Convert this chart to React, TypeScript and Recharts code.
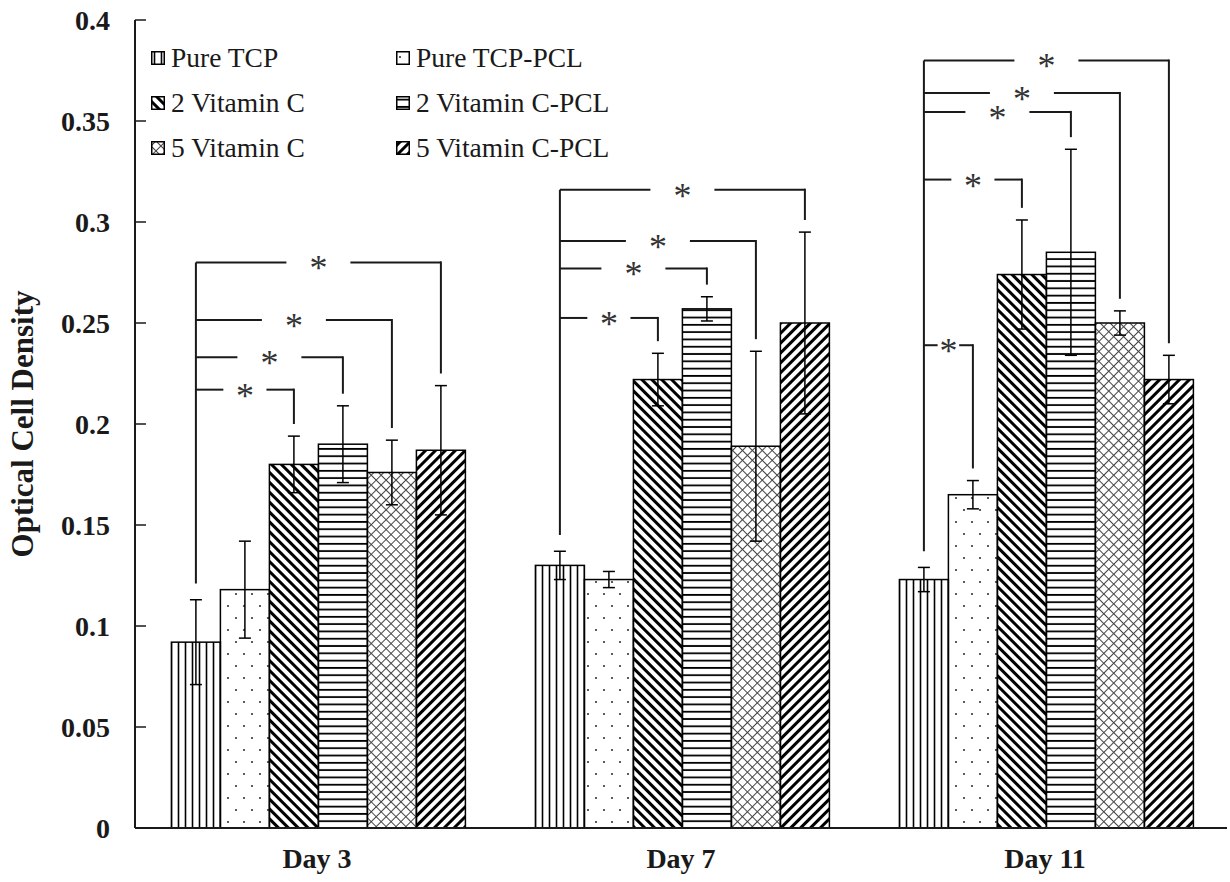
import React from 'react';
import { BarChart, Bar, XAxis, YAxis, ErrorBar, Legend, Label } from 'recharts';

const days = ['Day 3', 'Day 7', 'Day 11'];

const pureTcp = [0.092, 0.13, 0.123];
const pureTcpErr = [0.021, 0.007, 0.006];
const pureTcpPcl = [0.118, 0.123, 0.165];
const pureTcpPclErr = [0.024, 0.004, 0.007];
const vitC2 = [0.18, 0.222, 0.274];
const vitC2Err = [0.014, 0.013, 0.027];
const vitC2Pcl = [0.19, 0.257, 0.285];
const vitC2PclErr = [0.019, 0.006, 0.051];
const vitC5 = [0.176, 0.189, 0.25];
const vitC5Err = [0.016, 0.047, 0.006];
const vitC5Pcl = [0.187, 0.25, 0.222];
const vitC5PclErr = [0.032, 0.045, 0.012];

// height of the "*" bracket joining Pure TCP to each group (null = no bracket)
const sigPureTcpPcl = [null, null, 0.239];
const sigVitC2 = [0.217, 0.2525, 0.321];
const sigVitC2Pcl = [0.233, 0.277, 0.3545];
const sigVitC5 = [0.2515, 0.2906, 0.3639];
const sigVitC5Pcl = [0.28, 0.316, 0.38];

const yTicks = [0, 0.05, 0.1, 0.15, 0.2, 0.25, 0.3, 0.35, 0.4];

const rows = days.map((day, i) => ({
  day,
  pureTcp: pureTcp[i],
  pureTcpErr: pureTcpErr[i],
  pureTcpPcl: pureTcpPcl[i],
  pureTcpPclErr: pureTcpPclErr[i],
  pureTcpPclSig: sigPureTcpPcl[i],
  vitC2: vitC2[i],
  vitC2Err: vitC2Err[i],
  vitC2Sig: sigVitC2[i],
  vitC2Pcl: vitC2Pcl[i],
  vitC2PclErr: vitC2PclErr[i],
  vitC2PclSig: sigVitC2Pcl[i],
  vitC5: vitC5[i],
  vitC5Err: vitC5Err[i],
  vitC5Sig: sigVitC5[i],
  vitC5Pcl: vitC5Pcl[i],
  vitC5PclErr: vitC5PclErr[i],
  vitC5PclSig: sigVitC5Pcl[i],
}));

const series = [
  { key: 'pureTcp', name: 'Pure TCP', fill: 'url(#pVert)' },
  { key: 'pureTcpPcl', name: 'Pure TCP-PCL', fill: 'url(#pDots)' },
  { key: 'vitC2', name: '2 Vitamin C', fill: 'url(#pBack)' },
  { key: 'vitC2Pcl', name: '2 Vitamin C-PCL', fill: 'url(#pHoriz)' },
  { key: 'vitC5', name: '5 Vitamin C', fill: 'url(#pCross)' },
  { key: 'vitC5Pcl', name: '5 Vitamin C-PCL', fill: 'url(#pFwd)' },
];

const serif = "'Times New Roman', 'Liberation Serif', serif";
const ink = '#1a1a1a';

const makeShape = (k: number, key: string) => (props: any) => {
  const { x, y, width, height, payload, fill } = props;
  const v = payload[key];
  const base = y + height;
  const py = (val: number) => base - (val * height) / v;
  const cx = x + width / 2;
  const top = v + payload[key + 'Err'];
  const parts: any[] = [
    <rect key="r" x={x} y={y} width={width} height={height} fill={fill} stroke="#000" strokeWidth={1.5} />,
  ];
  if (k === 0) {
    const maxSig = Math.max(...series.slice(1).map((s) => payload[s.key + 'Sig'] ?? 0));
    parts.push(
      <line key="v" x1={cx} x2={cx} y1={py(maxSig)} y2={py(top + 0.008)} stroke={ink} strokeWidth={2} />
    );
  } else if (payload[key + 'Sig'] != null) {
    const by = py(payload[key + 'Sig']);
    const x0 = cx - k * width;
    const mid = (x0 + cx) / 2;
    const g = Math.min(32, (cx - x0) * 0.22);
    parts.push(
      <line key="h1" x1={x0} x2={mid - g} y1={by} y2={by} stroke={ink} strokeWidth={2} />,
      <line key="h2" x1={mid + g} x2={cx} y1={by} y2={by} stroke={ink} strokeWidth={2} />,
      <line key="d" x1={cx} x2={cx} y1={by - 1} y2={py(top + 0.006)} stroke={ink} strokeWidth={2} />,
      <text key="t" x={mid} y={by + 18} textAnchor="middle" fontFamily={serif} fontSize={36} fill="#333">
        *
      </text>
    );
  }
  return <g>{parts}</g>;
};

const YTick = (props: any) => {
  const { x, y, payload } = props;
  return (
    <g>
      <line x1={x + 25} x2={x + 36} y1={y} y2={y} stroke={ink} strokeWidth={1.5} />
      <text x={x} y={y} dy="0.35em" textAnchor="end" fontFamily={serif} fontSize={28} fontWeight="bold" fill={ink}>
        {String(payload.value)}
      </text>
    </g>
  );
};

const YLabel = (props: any) => {
  const vb = props.viewBox;
  const cx = vb.x + 33;
  const cy = vb.y + vb.height / 2;
  return (
    <text
      x={cx}
      y={cy}
      transform={`rotate(-90 ${cx} ${cy})`}
      textAnchor="middle"
      fontFamily={serif}
      fontSize={31}
      fontWeight="bold"
      fill={ink}
    >
      Optical Cell Density
    </text>
  );
};

const renderLegend = () => (
  <div
    style={{
      display: 'grid',
      gridTemplateColumns: '245px 260px',
      fontFamily: serif,
      fontSize: 27.5,
      color: ink,
    }}
  >
    {series.map((s) => (
      <div key={s.key} style={{ height: 45, display: 'flex', alignItems: 'center' }}>
        <svg width={14} height={14} style={{ overflow: 'visible' }}>
          <rect x={0.75} y={0.75} width={12.5} height={12.5} fill={s.fill} stroke="#000" strokeWidth={1.5} />
        </svg>
        <span style={{ marginLeft: 6, whiteSpace: 'nowrap' }}>{s.name}</span>
      </div>
    ))}
  </div>
);

export default function App() {
  return (
    <div style={{ position: 'absolute', left: 0, top: 0, width: 1230, height: 882, background: '#fff' }}>
      <BarChart
        width={1230}
        height={882}
        data={rows}
        margin={{ top: 20, right: 3, bottom: 0, left: 0 }}
        barCategoryGap="10%"
        barGap={0}
      >
        <defs>
          <pattern id="pVert" width="7" height="10" patternUnits="userSpaceOnUse">
            <line x1="3.5" y1="0" x2="3.5" y2="10" stroke="#000" strokeWidth="1.6" />
          </pattern>
          <pattern id="pDots" width="16" height="24" patternUnits="userSpaceOnUse">
            <circle cx="4" cy="6" r="1.1" fill="#333" />
            <circle cx="12" cy="18" r="1.1" fill="#333" />
          </pattern>
          <pattern id="pBack" width="7" height="10" patternUnits="userSpaceOnUse" patternTransform="rotate(-45)">
            <line x1="3.5" y1="0" x2="3.5" y2="10" stroke="#000" strokeWidth="3" />
          </pattern>
          <pattern id="pHoriz" width="10" height="7.3" patternUnits="userSpaceOnUse">
            <line x1="0" y1="3.6" x2="10" y2="3.6" stroke="#000" strokeWidth="1.8" />
          </pattern>
          <pattern id="pCross" width="7" height="7" patternUnits="userSpaceOnUse" patternTransform="rotate(45)">
            <line x1="3.5" y1="0" x2="3.5" y2="7" stroke="#444" strokeWidth="1" />
            <line x1="0" y1="3.5" x2="7" y2="3.5" stroke="#444" strokeWidth="1" />
          </pattern>
          <pattern id="pFwd" width="7" height="10" patternUnits="userSpaceOnUse" patternTransform="rotate(45)">
            <line x1="3.5" y1="0" x2="3.5" y2="10" stroke="#000" strokeWidth="3" />
          </pattern>
        </defs>
        <XAxis
          dataKey="day"
          height={54}
          tickLine={false}
          tickSize={0}
          tickMargin={20}
          axisLine={{ stroke: ink, strokeWidth: 2 }}
          tick={{ fontFamily: serif, fontSize: 28, fontWeight: 'bold', fill: ink }}
        />
        <XAxis
          xAxisId="top"
          orientation="top"
          dataKey="day"
          height={0}
          tick={false}
          tickLine={false}
          axisLine={{ stroke: ink, strokeWidth: 2 }}
        />
        <YAxis
          width={135}
          domain={[0, 0.4]}
          ticks={yTicks}
          interval={0}
          tickLine={false}
          tickSize={10}
          tickMargin={15}
          axisLine={{ stroke: ink, strokeWidth: 2 }}
          tick={<YTick />}
        >
          <Label content={<YLabel />} />
        </YAxis>
        <YAxis
          yAxisId="right"
          orientation="right"
          width={0}
          domain={[0, 0.4]}
          tick={false}
          tickLine={false}
          axisLine={{ stroke: ink, strokeWidth: 2 }}
        />
        <Legend
          layout="horizontal"
          verticalAlign="middle"
          align="center"
          content={renderLegend}
          wrapperStyle={{ position: 'absolute', left: 151, top: 35, width: 540 }}
        />
        {series.map((s, k) => (
          <Bar key={s.key} dataKey={s.key} name={s.name} fill={s.fill} isAnimationActive={false} shape={makeShape(k, s.key)}>
            <ErrorBar dataKey={s.key + 'Err'} width={6} stroke="#000" strokeWidth={1.5} />
          </Bar>
        ))}
      </BarChart>
    </div>
  );
}
